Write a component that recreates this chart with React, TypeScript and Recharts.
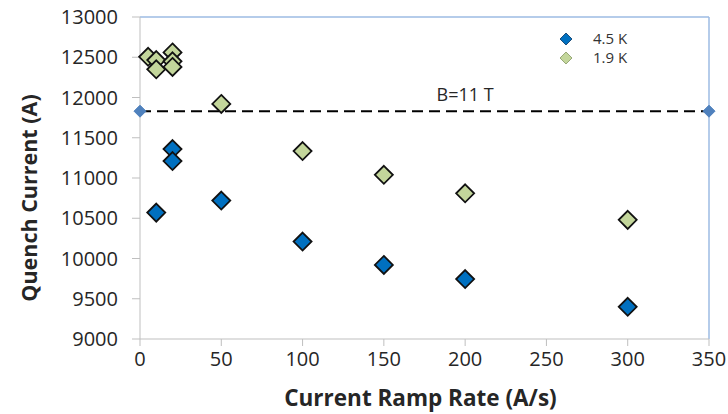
import { ScatterChart, Scatter, XAxis, YAxis, ReferenceLine, ReferenceDot } from 'recharts'

const rates45 = [10, 20, 20, 50, 100, 150, 200, 300]
const quench45 = [10570, 11360, 11210, 10720, 10210, 9920, 9745, 9400]

const rates19 = [5, 10, 10, 20, 20, 20, 50, 100, 150, 200, 300]
const quench19 = [12505, 12465, 12350, 12560, 12450, 12380, 11920, 11335, 11040, 10810, 10480]

const fieldRates = [0, 350]
const fieldQuench = [11830, 11830]

const xTicks = [0, 50, 100, 150, 200, 250, 300, 350]
const yTicks = [9000, 9500, 10000, 10500, 11000, 11500, 12000, 12500, 13000]

const seriesNames = ['4.5 K', '1.9 K']

const toPoints = (xs: number[], ys: number[]) => xs.map((x, i) => ({ x, y: ys[i] }))

const data45 = toPoints(rates45, quench45)
const data19 = toPoints(rates19, quench19)
const fieldLine = toPoints(fieldRates, fieldQuench)

const font = '"Open Sans", sans-serif'

const Diamond = (fill: string, r: number, stroke: string, sw: number) => (props: any) => {
  const { cx, cy } = props
  if (cx == null || cy == null) return <g />
  return (
    <polygon
      points={`${cx},${cy - r} ${cx + r},${cy} ${cx},${cy + r} ${cx - r},${cy}`}
      fill={fill}
      stroke={stroke}
      strokeWidth={sw}
    />
  )
}

const legendColors = [
  { fill: '#0070c0', stroke: '#1f4e79' },
  { fill: '#c3d69b', stroke: '#98a878' },
]

// legend sits over the plot, like the excel one, so it must not eat chart margin
const LegendBox = () => (
  <div style={{ position: 'absolute', left: 559, top: 29, fontFamily: font, fontSize: 15, color: '#333', lineHeight: '19px' }}>
    {seriesNames.map((name, i) => (
      <div key={name} style={{ display: 'flex', alignItems: 'center', height: 19 }}>
        <svg width={14} height={14} style={{ marginRight: 20 }}>
          <polygon points="7,1 13,7 7,13 1,7" fill={legendColors[i].fill} stroke={legendColors[i].stroke} strokeWidth={1} />
        </svg>
        <span>{name}</span>
      </div>
    ))}
  </div>
)

export default function App() {
  return (
    <div style={{ position: 'absolute', left: 0, top: 0, width: 728, height: 414, background: '#fff' }}>
      <ScatterChart width={728} height={414} margin={{ top: 17, right: 19, bottom: 0, left: 0 }}>
        <XAxis
          type="number"
          dataKey="x"
          domain={[0, 350]}
          ticks={xTicks}
          height={75}
          stroke="#bfbfbf"
          tickSize={7}
          tickMargin={6}
          tick={{ fill: '#262626', fontSize: 20, fontFamily: font }}
          label={{
            content: ({ viewBox }: any) => (
              <text
                x={viewBox.x + viewBox.width / 2 - 4}
                y={viewBox.y + 67}
                textAnchor="middle"
                fontFamily={font}
                fontWeight="bold"
                fontSize={22.5}
                fill="#262626"
              >
                Current Ramp Rate (A/s)
              </text>
            ),
          }}
        />
        <YAxis
          type="number"
          dataKey="y"
          domain={[9000, 13000]}
          ticks={yTicks}
          width={140}
          stroke="#bfbfbf"
          tickSize={8}
          tickMargin={14}
          tick={{ fill: '#262626', fontSize: 20, fontFamily: font }}
          label={{
            content: ({ viewBox }: any) => {
              const cx = 37
              const cy = viewBox.y + viewBox.height / 2 + 20
              return (
                <text
                  x={cx}
                  y={cy}
                  transform={`rotate(-90, ${cx}, ${cy})`}
                  textAnchor="middle"
                  fontFamily={font}
                  fontWeight="bold"
                  fontSize={21.5}
                  fill="#262626"
                >
                  Quench Current (A)
                </text>
              )
            },
          }}
        />
        <ReferenceLine y={13000} stroke="#9dbbe3" strokeWidth={1.5} />
        <ReferenceLine x={350} stroke="#9dbbe3" strokeWidth={1.5} />
        <Scatter
          name="B=11 T"
          data={fieldLine}
          line={{ stroke: '#000', strokeWidth: 2, strokeDasharray: '11 6' }}
          shape={Diamond('#4f81bd', 6, '#4f81bd', 1)}
          isAnimationActive={false}
          legendType="none"
        />
        <ReferenceDot
          x={200}
          y={11830}
          r={0}
          stroke="none"
          fill="none"
          label={{ value: 'B=11 T', position: 'top', offset: 10, fill: '#262626', fontSize: 18, fontFamily: font }}
        />
        <Scatter
          name={seriesNames[0]}
          data={data45}
          shape={Diamond('#0070c0', 9, '#111', 1.8)}
          isAnimationActive={false}
        />
        <Scatter
          name={seriesNames[1]}
          data={data19}
          shape={Diamond('#c3d69b', 9, '#111', 1.8)}
          isAnimationActive={false}
        />
      </ScatterChart>
      <LegendBox />
    </div>
  )
}
